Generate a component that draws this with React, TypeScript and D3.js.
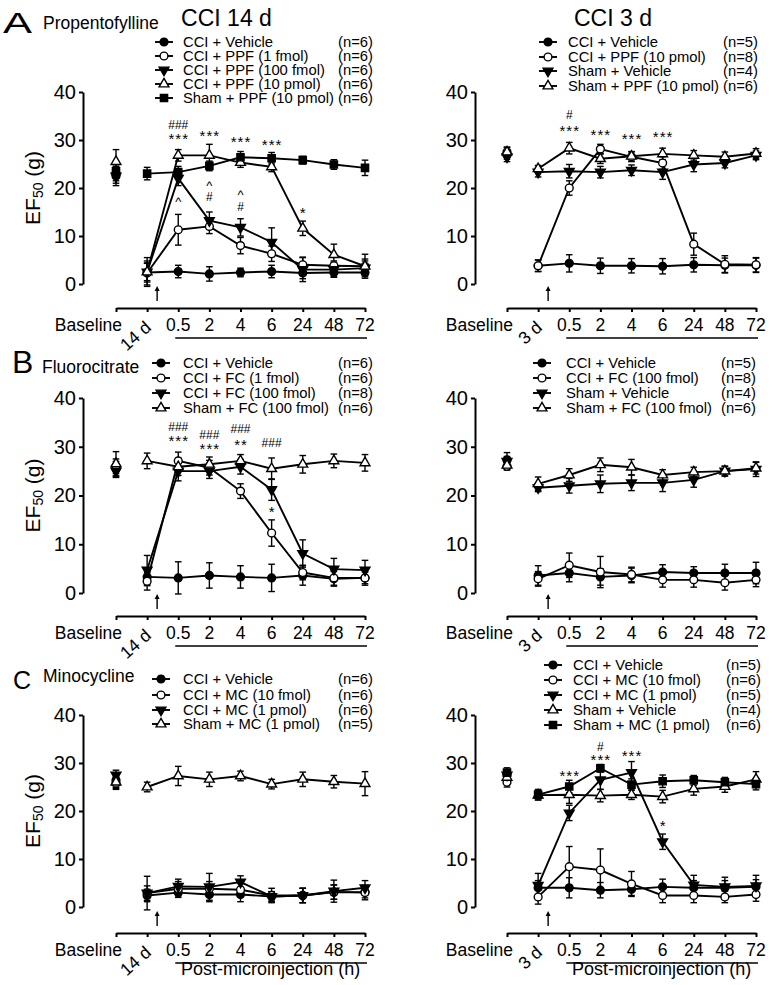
import React, { useEffect, useRef } from "react";
import * as d3 from "d3";

const FONT = "'Liberation Sans', Arial, Helvetica, sans-serif";

const LABELS_14 = ["Baseline", "14 d", "0.5", "2", "4", "6", "24", "48", "72"];
const LABELS_3 = ["Baseline", "3 d", "0.5", "2", "4", "6", "24", "48", "72"];
const Y_TICKS = [0, 10, 20, 30, 40];

// A, CCI 14 d (propentofylline)
const a14Veh = [22.5, 2.4, 2.6, 2.1, 2.4, 2.6, 2.3, 2.4, 2.4];
const a14VehErr = [2.0, 2.0, 1.3, 1.5, 0.9, 1.3, 1.2, 1.0, 0.9];
const a14F1 = [23, 2.3, 11.3, 12, 8.0, 6.3, 4.0, 3.8, 3.7];
const a14F1Err = [1.5, 2.5, 3.2, 1.5, 1.7, 1.6, 1.6, 1.0, 1.5];
const a14F100 = [22.5, 2.5, 22, 13.2, 11.8, 8.7, 3.0, 3.0, 3.3];
const a14F100Err = [1.5, 3.0, 1.5, 1.8, 1.8, 3.0, 2.5, 1.5, 1.5];
const a14P10 = [25.5, 2.5, 26.8, 26.8, 25.3, 24.4, 11.6, 6.1, 3.7];
const a14P10Err = [2.5, 1.8, 1.2, 2.3, 1.0, 1.0, 1.5, 2.2, 2.5];
const a14Sham = [23.5, 23, 23.3, 24.6, 26.4, 26.2, 25.8, 24.9, 24.2];
const a14ShamErr = [1.5, 1.3, 1.2, 1.0, 1.2, 1.2, 0.8, 1.0, 1.6];

// A, CCI 3 d
const a3Veh = [27, 3.8, 4.3, 3.8, 3.8, 3.7, 4.0, 3.9, 3.9];
const a3VehErr = [1.0, 1.2, 1.8, 1.6, 1.5, 1.6, 1.5, 1.5, 1.5];
const a3P10 = [27.5, 3.8, 20.0, 28.1, 26.5, 25.2, 8.3, 4.1, 4.0];
const a3P10Err = [1.0, 1.2, 1.5, 1.0, 1.0, 1.3, 2.3, 1.8, 1.5];
const a3ShVeh = [26.5, 23.3, 23.5, 23.3, 23.7, 23.3, 24.9, 25.2, 26.8];
const a3ShVehErr = [1.0, 1.0, 1.4, 1.2, 1.1, 1.5, 1.5, 1.0, 0.9];
const a3ShP10 = [27.5, 24, 28.3, 26.1, 26.6, 27.1, 26.8, 26.5, 27.2];
const a3ShP10Err = [1.0, 0.7, 1.2, 1.0, 1.0, 1.2, 1.0, 1.0, 1.0];

// B, CCI 14 d (fluorocitrate)
const b14Veh = [25.5, 3.3, 3.1, 3.6, 3.3, 3.1, 3.6, 2.9, 3.1];
const b14VehErr = [1.5, 1.8, 3.3, 2.6, 2.3, 2.8, 2.0, 1.5, 1.5];
const b14F1 = [26, 2.4, 27.1, 25.7, 20.9, 12.3, 4.2, 3.1, 3.1];
const b14F1Err = [1.5, 1.8, 1.8, 1.5, 1.5, 2.7, 1.5, 1.5, 1.2];
const b14F100 = [25, 4.7, 25, 25, 25.9, 21.2, 8.1, 4.9, 4.7];
const b14F100Err = [1.3, 3.0, 2.0, 1.5, 1.5, 2.2, 2.8, 2.2, 2.0];
const b14Sham = [26.5, 27.1, 25.9, 26.4, 27.1, 25.5, 26.4, 27.1, 26.7];
const b14ShamErr = [2.5, 1.6, 1.8, 1.5, 1.3, 2.2, 1.8, 1.4, 1.7];

// B, CCI 3 d
const b3Veh = [27.3, 3.6, 4.1, 3.3, 3.6, 4.3, 4.1, 4.1, 4.1];
const b3VehErr = [1.5, 2.0, 1.8, 1.7, 1.5, 1.5, 1.3, 1.8, 2.2];
const b3F100 = [26.0, 2.9, 5.7, 4.3, 3.8, 2.7, 2.7, 2.1, 2.7];
const b3F100Err = [0.8, 1.5, 2.5, 3.2, 1.5, 1.5, 1.5, 1.5, 1.4];
const b3ShVeh = [27.0, 21.6, 22.0, 22.4, 22.6, 22.6, 23.2, 25.0, 25.4];
const b3ShVehErr = [1.0, 0.8, 1.5, 1.8, 1.6, 1.8, 1.5, 1.0, 1.5];
const b3ShF100 = [26.2, 22.4, 24.2, 26.3, 25.8, 24.2, 24.8, 25.0, 25.6];
const b3ShF100Err = [0.8, 1.4, 1.3, 1.4, 1.6, 1.1, 1.0, 1.0, 1.2];

// C, CCI 14 d (minocycline)
const c14Veh = [26.4, 2.4, 3.0, 2.6, 2.6, 2.2, 2.4, 3.1, 3.1];
const c14VehErr = [1.5, 1.3, 1.0, 1.5, 1.5, 1.0, 1.5, 1.5, 1.2];
const c14M10 = [25.8, 2.9, 3.8, 3.8, 3.6, 2.4, 2.4, 3.1, 3.0];
const c14M10Err = [1.3, 1.5, 1.5, 1.5, 1.3, 1.5, 1.5, 1.5, 1.5];
const c14P1 = [27.5, 2.9, 4.3, 4.2, 5.2, 2.2, 2.4, 3.3, 4.0];
const c14P1Err = [1.0, 3.5, 1.5, 2.8, 1.3, 1.0, 1.5, 2.3, 1.5];
const c14Sham = [26.0, 25.0, 27.3, 26.6, 27.3, 25.6, 26.6, 26.1, 25.7];
const c14ShamErr = [1.3, 1.0, 2.0, 1.5, 1.0, 1.0, 1.5, 1.3, 2.5];

// C, CCI 3 d
const c3Veh = [27.5, 4.0, 4.0, 3.5, 3.7, 4.2, 4.0, 4.0, 4.2];
const c3VehErr = [1.0, 1.5, 2.1, 1.6, 1.3, 1.6, 1.5, 1.5, 1.5];
const c3M10 = [26.0, 2.1, 8.4, 7.7, 4.8, 2.4, 2.4, 2.1, 2.6];
const c3M10Err = [1.0, 1.5, 4.2, 4.4, 2.6, 1.5, 1.5, 1.2, 1.4];
const c3P1 = [27.5, 4.5, 19.6, 26.5, 28.0, 13.6, 4.6, 4.2, 4.4];
const c3P1Err = [1.0, 2.5, 1.6, 2.0, 2.3, 1.6, 2.0, 2.0, 2.2];
const c3ShVeh = [27.0, 23.3, 23.4, 23.2, 23.4, 23.0, 24.6, 25.1, 26.6];
const c3ShVehErr = [1.0, 1.0, 1.8, 1.3, 1.0, 1.3, 1.3, 1.2, 1.6];
const c3ShP1 = [28.0, 23.4, 25.1, 28.9, 25.5, 26.2, 26.4, 26.0, 25.6];
const c3ShP1Err = [1.0, 1.1, 1.3, 0.8, 1.2, 1.3, 1.0, 1.0, 1.2];

// significance marks: [x index, y value at text baseline, text]
const a14Marks = [
  [2, 32.3, "###"], [2, 29.1, "***"], [3, 29.8, "***"], [4, 28.5, "***"], [5, 27.9, "***"],
  [2, 16.2, "^"], [3, 19.6, "^"], [3, 17.3, "#"], [4, 17.7, "^"], [4, 15.2, "#"], [6, 13.7, "*"],
];
const a3Marks = [[2, 34.4, "#"], [2, 30.8, "***"], [3, 30.0, "***"], [4, 29.2, "***"], [5, 29.6, "***"]];
const b14Marks = [
  [2, 33.2, "###"], [2, 30.2, "***"], [3, 31.6, "###"], [3, 28.5, "***"],
  [4, 32.8, "###"], [4, 29.3, "**"], [5, 29.9, "###"], [5, 15.6, "*"],
];
const c3Marks = [[2, 26.2, "***"], [3, 32.5, "#"], [3, 29.6, "***"], [4, 30.4, "***"], [5, 15.8, "*"]];

type Shape = "dot" | "ring" | "down" | "up" | "square";
interface Series { name: string; n: string; shape: Shape; values: number[]; errors: number[] }

const mk = (name: string, n: string, shape: Shape, values: number[], errors: number[]): Series => ({ name, n, shape, values, errors });

const panels = [
  {
    col: 0, row: 0, labels: LABELS_14, marks: a14Marks,
    legend: { mx: 155, tx: 183, nx: 373, rows: [42, 56, 70, 84, 98] },
    series: [
      mk("CCI + Vehicle", "(n=6)", "dot", a14Veh, a14VehErr),
      mk("CCI + PPF (1 fmol)", "(n=6)", "ring", a14F1, a14F1Err),
      mk("CCI + PPF (100 fmol)", "(n=6)", "down", a14F100, a14F100Err),
      mk("CCI + PPF (10 pmol)", "(n=6)", "up", a14P10, a14P10Err),
      mk("Sham + PPF (10 pmol)", "(n=6)", "square", a14Sham, a14ShamErr),
    ],
  },
  {
    col: 1, row: 0, labels: LABELS_3, marks: a3Marks,
    legend: { mx: 539, tx: 568, nx: 758, rows: [42, 57, 71, 86] },
    series: [
      mk("CCI + Vehicle", "(n=5)", "dot", a3Veh, a3VehErr),
      mk("CCI + PPF (10 pmol)", "(n=8)", "ring", a3P10, a3P10Err),
      mk("Sham + Vehicle", "(n=4)", "down", a3ShVeh, a3ShVehErr),
      mk("Sham + PPF (10 pmol)", "(n=6)", "up", a3ShP10, a3ShP10Err),
    ],
  },
  {
    col: 0, row: 1, labels: LABELS_14, marks: b14Marks,
    legend: { mx: 152, tx: 183, nx: 373, rows: [363, 378, 393, 408] },
    series: [
      mk("CCI + Vehicle", "(n=6)", "dot", b14Veh, b14VehErr),
      mk("CCI + FC (1 fmol)", "(n=6)", "ring", b14F1, b14F1Err),
      mk("CCI + FC (100 fmol)", "(n=8)", "down", b14F100, b14F100Err),
      mk("Sham + FC (100 fmol)", "(n=6)", "up", b14Sham, b14ShamErr),
    ],
  },
  {
    col: 1, row: 1, labels: LABELS_3, marks: [],
    legend: { mx: 533, tx: 566, nx: 756, rows: [363, 378, 393, 408] },
    series: [
      mk("CCI + Vehicle", "(n=5)", "dot", b3Veh, b3VehErr),
      mk("CCI + FC (100 fmol)", "(n=8)", "ring", b3F100, b3F100Err),
      mk("Sham + Vehicle", "(n=4)", "down", b3ShVeh, b3ShVehErr),
      mk("Sham + FC (100 fmol)", "(n=6)", "up", b3ShF100, b3ShF100Err),
    ],
  },
  {
    col: 0, row: 2, labels: LABELS_14, marks: [],
    legend: { mx: 152, tx: 183, nx: 373, rows: [679, 695, 710, 724] },
    series: [
      mk("CCI + Vehicle", "(n=6)", "dot", c14Veh, c14VehErr),
      mk("CCI + MC (10 fmol)", "(n=6)", "ring", c14M10, c14M10Err),
      mk("CCI + MC (1 pmol)", "(n=6)", "down", c14P1, c14P1Err),
      mk("Sham + MC (1 pmol)", "(n=5)", "up", c14Sham, c14ShamErr),
    ],
  },
  {
    col: 1, row: 2, labels: LABELS_3, marks: c3Marks,
    legend: { mx: 544, tx: 573, nx: 761, rows: [665, 680, 695, 710, 725] },
    series: [
      mk("CCI + Vehicle", "(n=5)", "dot", c3Veh, c3VehErr),
      mk("CCI + MC (10 fmol)", "(n=6)", "ring", c3M10, c3M10Err),
      mk("CCI + MC (1 pmol)", "(n=5)", "down", c3P1, c3P1Err),
      mk("Sham + Vehicle", "(n=4)", "up", c3ShVeh, c3ShVehErr),
      mk("Sham + MC (1 pmol)", "(n=6)", "square", c3ShP1, c3ShP1Err),
    ],
  },
];

const COLS = [
  { yAxisX: 83, x0: 116, x1: 365 },
  { yAxisX: 475, x0: 507, x1: 756 },
];
const ROWS = [
  { y40: 92, y0: 284, axisY: 308 },
  { y40: 398, y0: 593, axisY: 616 },
  { y40: 715, y0: 907, axisY: 933 },
];

const symbolFor = (shape: Shape) => {
  if (shape === "square") return d3.symbol(d3.symbolSquare, 52)();
  if (shape === "up" || shape === "down") return d3.symbol(d3.symbolTriangle, 42)();
  return d3.symbol(d3.symbolCircle, 48)();
};

function Marker({ shape, x, y }: { shape: Shape; x: number; y: number }) {
  const open = shape === "ring" || shape === "up";
  const rot = shape === "down" ? " rotate(180)" : "";
  return (
    <path
      d={symbolFor(shape) || ""}
      transform={`translate(${x},${y})${rot}`}
      fill={open ? "#fff" : "#000"}
      stroke="#000"
      strokeWidth={1.4}
    />
  );
}

function Axis({ axis, transform }: { axis: any; transform: string }) {
  const ref = useRef<SVGGElement>(null);
  useEffect(() => {
    const g = d3.select(ref.current);
    g.call(axis);
    g.attr("font-family", FONT).attr("font-size", 20);
    g.selectAll("path, line").attr("stroke", "#000").attr("stroke-width", 2);
    g.selectAll("text").attr("fill", "#000");
  }, [axis]);
  return <g ref={ref} transform={transform} />;
}

function Panel({ p }: { p: (typeof panels)[number] }) {
  const c = COLS[p.col];
  const r = ROWS[p.row];
  const x = d3.scalePoint<string>().domain(p.labels).range([c.x0, c.x1]);
  const y = d3.scaleLinear().domain([0, 40]).range([r.y0, r.y40]);
  const yAxis = d3.axisLeft(y).tickValues(Y_TICKS).tickSize(4).tickSizeOuter(0).tickPadding(3);
  const xAxis = d3.axisBottom(x).tickSize(4).tickSizeOuter(0).tickFormat(() => "");
  const px = (i: number) => x(p.labels[i]) as number;
  const line = d3
    .line<number>()
    .x((_, i) => px(i + 1))
    .y((v) => y(v));
  const cap = 3.3;
  const lg = p.legend;
  return (
    <g>
      <Axis axis={yAxis} transform={`translate(${c.yAxisX},0)`} />
      <Axis axis={xAxis} transform={`translate(0,${r.axisY})`} />
      {p.labels.map((l, i) => {
        if (i === 0)
          return (
            <text key={i} x={px(0) + 6} y={r.axisY + 23} textAnchor="end" fontSize={17.5}>
              {l}
            </text>
          );
        if (i === 1)
          return (
            <text key={i} transform={`translate(${px(1) + 5},${r.axisY + 21}) rotate(-42)`} textAnchor="end" fontSize={17.5}>
              {l}
            </text>
          );
        return (
          <text key={i} x={px(i)} y={r.axisY + 23} textAnchor="middle" fontSize={17.5}>
            {l}
          </text>
        );
      })}
      <line x1={px(2) - 3} x2={px(8) + 2} y1={r.axisY + 30} y2={r.axisY + 30} stroke="#000" strokeWidth={1.3} />
      {p.row === 2 && (
        <text x={(px(2) + px(8)) / 2 - 1} y={r.axisY + 42} textAnchor="middle" fontSize={18}>
          Post-microinjection (h)
        </text>
      )}
      {/* arrow for microinjection time */}
      <line x1={px(1) + 10} x2={px(1) + 10} y1={r.axisY - 7} y2={r.axisY - 19} stroke="#000" strokeWidth={1.4} />
      <path d={`M${px(1) + 10},${r.axisY - 22} l-2.5,5 h5 z`} fill="#000" />
      {/* error bars */}
      {p.series.map((s, si) =>
        s.values.map((v, i) => {
          const cx = px(i);
          const top = y(v + s.errors[i]);
          const bot = y(v - s.errors[i]);
          return (
            <g key={`e${si}-${i}`} stroke="#000" strokeWidth={1.4}>
              <line x1={cx} x2={cx} y1={top} y2={bot} />
              <line x1={cx - cap} x2={cx + cap} y1={top} y2={top} />
              <line x1={cx - cap} x2={cx + cap} y1={bot} y2={bot} />
            </g>
          );
        })
      )}
      {p.series.map((s, si) => (
        <path key={`l${si}`} d={line(s.values.slice(1)) || ""} fill="none" stroke="#000" strokeWidth={1.9} />
      ))}
      {p.series.map((s, si) =>
        s.values.map((v, i) => <Marker key={`m${si}-${i}`} shape={s.shape} x={px(i)} y={y(v)} />)
      )}
      {p.marks.map((m, i) => {
        const t = m[2] as string;
        const star = t.startsWith("*");
        const fs = star ? 15 : t === "^" ? 13 : 12;
        return (
          <text
            key={`s${i}`}
            x={px(m[0] as number) + (star ? 0.5 : 0)}
            y={y(m[1] as number)}
            textAnchor="middle"
            fontSize={fs}
            letterSpacing={star ? 1 : 0}
          >
            {t}
          </text>
        );
      })}
      {p.series.map((s, si) => {
        const ry = lg.rows[si];
        return (
          <g key={`g${si}`}>
            <line x1={lg.mx} x2={lg.mx + 18} y1={ry} y2={ry} stroke="#000" strokeWidth={1.9} />
            <Marker shape={s.shape} x={lg.mx + 9} y={ry} />
            <text x={lg.tx} y={ry + 5.3} fontSize={14.8}>
              {s.name}
            </text>
            <text x={lg.nx} y={ry + 5.3} fontSize={14.8} textAnchor="end">
              {s.n}
            </text>
          </g>
        );
      })}
      {p.col === 0 && (
        <text transform={`translate(40,${(r.y0 + r.y40) / 2}) rotate(-90)`} textAnchor="middle" fontSize={21}>
          EF
          <tspan fontSize={14} dy={3}>
            50
          </tspan>
          <tspan dy={-3}> (g)</tspan>
        </text>
      )}
    </g>
  );
}

export default function App() {
  return (
    <svg
      width={772}
      height={985}
      style={{ position: "absolute", left: 0, top: 0, background: "#fff" }}
      fontFamily={FONT}
      fill="#000"
    >
      <text x={3} y={33} fontSize={30} textLength={29} lengthAdjust="spacingAndGlyphs">A</text>
      <text x={43} y={29} fontSize={17.5}>Propentofylline</text>
      <text x={226.5} y={26} fontSize={23} textAnchor="middle">CCI 14 d</text>
      <text x={613} y={26} fontSize={23} textAnchor="middle">CCI 3 d</text>
      <text x={12} y={373} fontSize={32}>B</text>
      <text x={42} y={373} fontSize={17.5}>Fluorocitrate</text>
      <text x={13} y={689} fontSize={25}>C</text>
      <text x={43} y={682} fontSize={17.5}>Minocycline</text>
      {panels.map((p, i) => (
        <Panel key={i} p={p} />
      ))}
    </svg>
  );
}
